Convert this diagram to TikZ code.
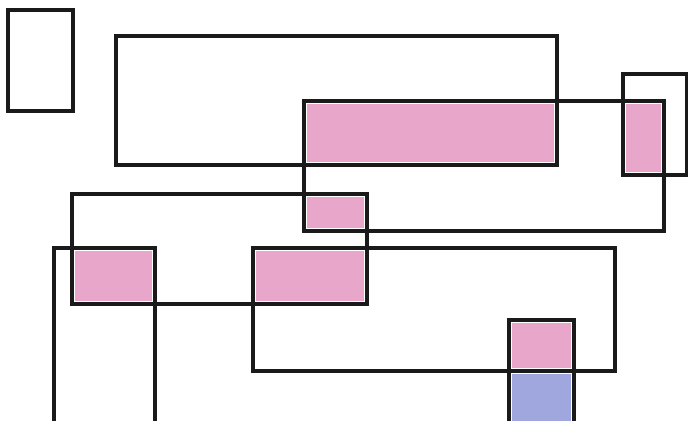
\documentclass[tikz,border=0pt]{standalone}
\definecolor{mPencilPink}{HTML}{E9A6CB}
\definecolor{mPencilBlue}{HTML}{A0A6DE}
\definecolor{mInk}{HTML}{1A1A1A}
\usepackage{tikz}
\usetikzlibrary{positioning}
\tikzset{
  frame/.style={draw=mInk, line width=2pt},
  pinkfill/.style={fill=mPencilPink},
  bluefill/.style={fill=mPencilBlue}
}
\newcommand{\pinkpatch}[4]{%
 \fill[pinkfill] (#1+3,#2+3) rectangle (#3-3,#4-3);}

\begin{document}
\begin{tikzpicture}[x=0.02cm, y=-0.02cm]
\useasboundingbox (0,0) rectangle (688,421);
% coloured overlaps
\pinkpatch{304}{101}{557}{165}
\pinkpatch{623}{101}{664}{175}
\pinkpatch{304}{194}{367}{231}
\pinkpatch{72}{248}{155}{304}
\pinkpatch{253}{248}{367}{304}
\pinkpatch{509}{320}{574}{371}
\fill[bluefill] (512,374) rectangle (571,421);
% outlines
\draw[frame] (8,10) rectangle (73,111);
\draw[frame] (116,36) rectangle (557,165);
\draw[frame] (304,101) rectangle (664,231);
\draw[frame] (623,74) rectangle (687,175);
\draw[frame] (72,194) rectangle (367,304);
\draw[frame] (54,430) -- (54,248) -- (155,248) -- (155,430);
\draw[frame] (253,248) rectangle (615,371);
\draw[frame] (509,430) -- (509,320) -- (574,320) -- (574,430);
\end{tikzpicture}
\end{document}
